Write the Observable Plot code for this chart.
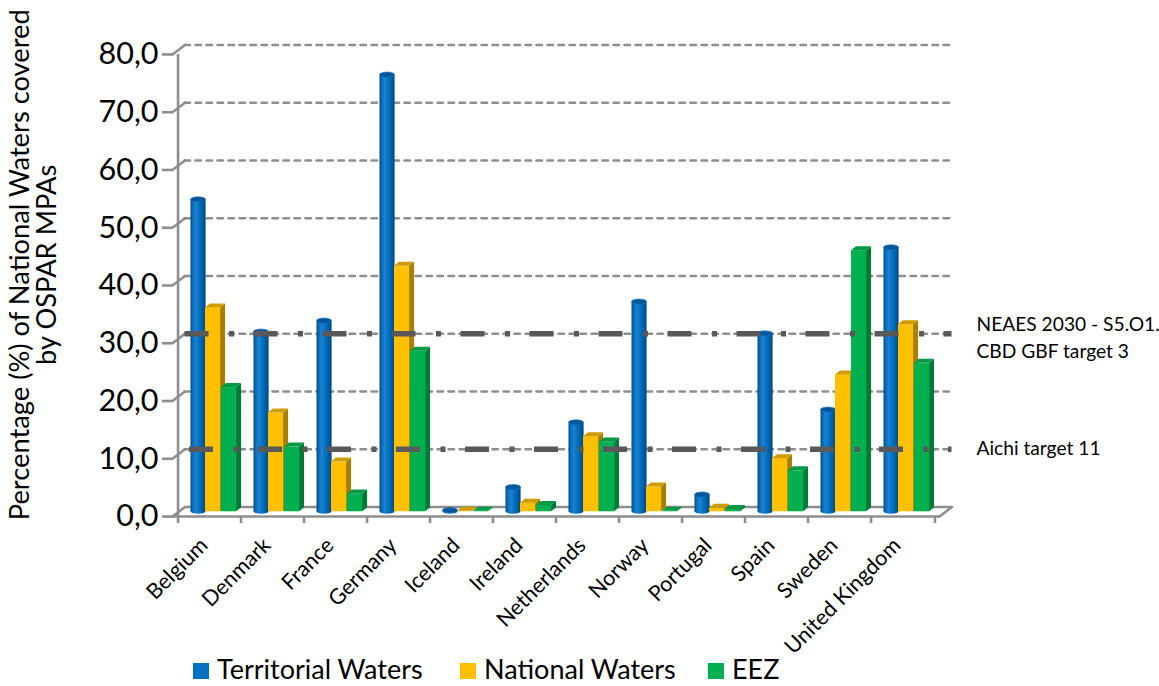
<!DOCTYPE html>
<html><head><meta charset="utf-8">
<script src="https://cdn.jsdelivr.net/npm/d3@7"></script>
<script src="https://cdn.jsdelivr.net/npm/@observablehq/plot@0.6"></script>
<style>
body{margin:0;background:#fff;font-family:Lato,sans-serif;}
#wrap{position:relative;width:1159px;height:686px;overflow:hidden;background:#fff;}
#legend{position:absolute;left:0;top:652px;width:1159px;height:34px;}
.item{position:absolute;top:4px;font-size:27px;line-height:26px;color:#000;white-space:nowrap;font-family:Lato,sans-serif;}
.sw{position:absolute;top:11px;width:16px;height:16px;}
</style></head><body><div id="wrap"><div id="chart"></div><div id="legend"></div></div>
<script>
const countries = ["Belgium","Denmark","France","Germany","Iceland","Ireland","Netherlands","Norway","Portugal","Spain","Sweden","United Kingdom"];
const seriesNames = ["Territorial Waters","National Waters","EEZ"];
const territorial = [54.0, 31.1, 33.0, 75.6, 0.2, 4.2, 15.4, 36.3, 2.9, 30.8, 17.6, 45.7];
const national    = [35.3, 17.1, 8.6, 42.5, 0.1, 1.5, 13.0, 4.3, 0.6, 9.2, 23.7, 32.4];
const eez         = [21.5, 11.2, 3.1, 27.8, 0.1, 1.1, 12.1, 0.1, 0.4, 7.1, 45.2, 25.7];
const seriesColors = ["#0070C0","#FFC000","#00B050"];
const yTicks = [0,10,20,30,40,50,60,70,80];
const refValues = [30, 10];
const refLabels = ["NEAES 2030 - S5.O1.\nCBD GBF target 3", "Aichi target 11"];
const yTitle = "Percentage (%) of National Waters covered\nby OSPAR MPAs";

const rows = countries.map((c, i) => ({country: c, tw: territorial[i], nw: national[i], eez: eez[i]}));

const W = 1159, H = 652, ML = 172, MR = 220, MT = 49.2, MB = 140.7;
const BW = (W - ML - MR) / countries.length;
const DX = 12.5, DY = 4.75;
const gray = "#8e8e8e";
const line = {draw(ctx, l) { ctx.moveTo(0, 0); ctx.lineTo(0, -l); }};
const fmt = d => d.toFixed(1).replace(".", ",");

const chart = Plot.plot({
  width: W, height: H,
  marginLeft: ML, marginRight: MR, marginTop: MT, marginBottom: MB,
  style: {fontFamily: "Lato, sans-serif", background: "white", overflow: "visible"},
  x: {type: "band", domain: countries, padding: 0, axis: null, label: null},
  y: {domain: [0, 80], axis: null, label: null},
  marks: [
    Plot.ruleY(yTicks.filter(d => d > 0), {y: d => d, dx: DX, dy: -DY, stroke: gray, strokeWidth: 2.6, strokeDasharray: "5.5,5.5", strokeLinecap: "round"}),
    Plot.ruleY([0], {y: d => d, dx: DX, dy: -DY, stroke: gray, strokeWidth: 2.6}),
    Plot.ruleY([0], {y: d => d, dy: DY, stroke: gray, strokeWidth: 2.6}),
    Plot.vector(yTicks, {y: d => d, frameAnchor: "left", length: 15.7, rotate: 52.8, anchor: "start", shape: line, dy: DY, stroke: gray, strokeWidth: 2.6}),
    Plot.vector([0], {y: d => d, frameAnchor: "right", length: 15.7, rotate: 52.8, anchor: "start", shape: line, dy: DY, stroke: gray, strokeWidth: 2.6}),
    Plot.ruleX([countries[0]], {x: d => d, y1: 0, y2: 80, dx: -BW / 2, dy: DY, stroke: gray, strokeWidth: 2.6}),
    Plot.axisY({ticks: yTicks, tickSize: 10, tickPadding: 4, tickFormat: fmt, label: null, dy: DY, stroke: gray, strokeWidth: 2.6, fill: "black", fontSize: 30.5}),
    Plot.axisX({ticks: countries, anchor: "bottom", tickSize: 7, tickFormat: () => "", label: null, dx: -BW / 2, dy: DY, stroke: gray, strokeWidth: 2.6}),
    Plot.axisX({ticks: [countries[countries.length - 1]], anchor: "bottom", tickSize: 7, tickFormat: () => "", label: null, dx: BW / 2, dy: DY, stroke: gray, strokeWidth: 2.6}),
    Plot.barY(rows, {x: "country", y: "tw", fill: "url(#cylGrad)", insetLeft: 12.5, insetRight: BW - 28.5}),
    Plot.barY(rows, {x: "country", y: "nw", fill: seriesColors[1], insetLeft: 27, insetRight: BW - 43}),
    Plot.barY(rows, {x: "country", y: "eez", fill: seriesColors[2], insetLeft: 43, insetRight: BW - 59}),
    Plot.ruleY([refValues[0]], {y: d => d, dx: DX, dy: -DY, stroke: "#595959", strokeWidth: 5.5, strokeDasharray: "24,20.5,5,19.5"}),
    Plot.ruleY([refValues[1]], {y: d => d, dx: DX, dy: -DY, stroke: "#595959", strokeWidth: 5.5, strokeDasharray: "24,20.5,5,19.5", strokeDashoffset: -4.5}),
    Plot.text([refValues[0]], {y: d => d, text: () => refLabels[0], frameAnchor: "right", textAnchor: "start", dx: 37, dy: -3, fontSize: 19.2, lineHeight: 1.42, fill: "black"}),
    Plot.text([refValues[1]], {y: d => d, text: () => refLabels[1], frameAnchor: "right", textAnchor: "start", dx: 37, dy: -5.5, fontSize: 19.2, fill: "black"}),
    Plot.text(countries, {x: d => d, text: d => d, frameAnchor: "bottom", rotate: -45, textAnchor: "end", dx: -1, dy: 35, fontSize: 21.5, fill: "black"}),
    Plot.text([yTitle], {text: d => d, frameAnchor: "left", rotate: -90, textAnchor: "middle", lineHeight: 1.0, dx: -139, dy: -16, fontSize: 27.3, fill: "black"})
  ]
});
document.getElementById("chart").appendChild(chart);

// 3D decorations derived from the rendered bars
const svg = d3.select(chart.tagName.toLowerCase() === "svg" ? chart : chart.querySelector("svg"));
const defs = svg.insert("defs", ":first-child");
const grad = defs.append("linearGradient").attr("id", "cylGrad").attr("x1", 0).attr("x2", 1).attr("y1", 0).attr("y2", 0);
[[0, "#004a82"], [0.15, "#0a6cba"], [0.35, "#1a82d2"], [0.6, "#0070c0"], [0.85, "#00589c"], [1, "#004578"]]
  .forEach(([o, c]) => grad.append("stop").attr("offset", o).attr("stop-color", c));
const groups = svg.selectAll('g[aria-label="bar"]').nodes();
const SX = 5, SY = 4;
groups.forEach((gNode, si) => {
  const g = d3.select(gNode);
  g.selectAll("rect").each(function () {
    const r = d3.select(this);
    const x = +r.attr("x"), y = +r.attr("y"), w = +r.attr("width"), h = +r.attr("height");
    if (si === 0) {
      g.insert("ellipse", () => this).attr("cx", x + w / 2).attr("cy", y + h).attr("rx", w / 2).attr("ry", 2.5).attr("fill", "url(#cylGrad)");
      g.append("ellipse").attr("cx", x + w / 2).attr("cy", y).attr("rx", w / 2).attr("ry", 2.6).attr("fill", "#00569b").attr("stroke", "#1a78c4").attr("stroke-width", 0.6);
    } else {
      const side = si === 1 ? "#a87f00" : "#007a37";
      const top = si === 1 ? "#cf9b00" : "#009a45";
      g.append("polygon").attr("points", `${x + w},${y + h} ${x + w + SX},${y + h - SY} ${x + w + SX},${y - SY} ${x + w},${y}`).attr("fill", side);
      g.append("polygon").attr("points", `${x},${y} ${x + SX},${y - SY} ${x + w + SX},${y - SY} ${x + w},${y}`).attr("fill", top);
    }
  });
});

// legend
const legendItems = [{x: 193, tx: 217}, {x: 460, tx: 484}, {x: 708, tx: 732}];
const legend = document.getElementById("legend");
seriesNames.forEach((name, i) => {
  const sw = document.createElement("div");
  sw.className = "sw"; sw.style.left = legendItems[i].x + "px"; sw.style.background = seriesColors[i];
  legend.appendChild(sw);
  const t = document.createElement("div");
  t.className = "item"; t.style.left = legendItems[i].tx + "px"; t.textContent = name;
  legend.appendChild(t);
});
</script></body></html>
